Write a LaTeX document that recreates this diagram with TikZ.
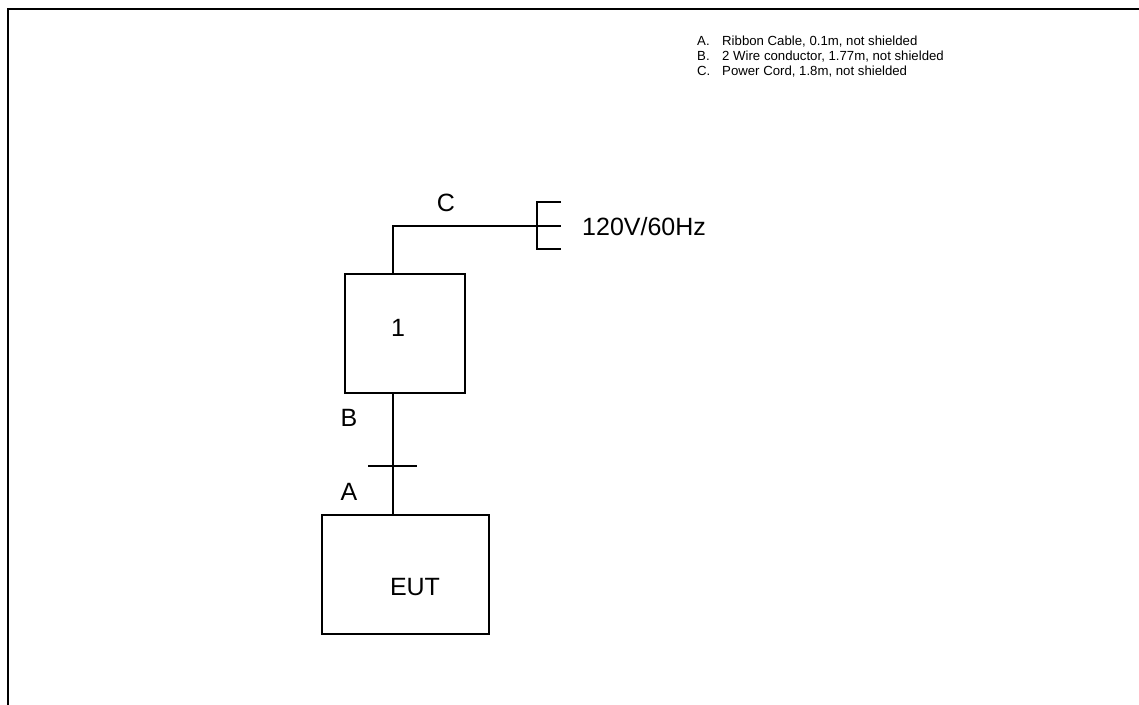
\documentclass[tikz,border=0pt]{standalone}
\usepackage{fontspec}
\setmainfont{Liberation Sans}
\begin{document}
\begin{tikzpicture}[x=1pt,y=-1pt,
  wire/.style={line width=1.4pt},
  box/.style={draw,line width=1.4pt,rectangle,inner sep=0pt},
  big/.style={font=\fontsize{25}{30}\selectfont,inner sep=0pt},
  small/.style={font=\fontsize{13.2}{15}\selectfont,inner sep=0pt,anchor=base west}]
\useasboundingbox (0,0) rectangle (1139,704);
% frame (extends beyond the page on right and bottom)
\draw[line width=2.2pt] (8,720) -- (8,9) -- (1150,9);
% legend
\node[small] (la) at (697,45) {A.};
\node[small] (lb) at (697,60) {B.};
\node[small] (lc) at (697,75) {C.};
\node[small] (ta) at (722,45) {Ribbon Cable, 0.1m, not shielded};
\node[small] (tb) at (722,60) {2 Wire conductor, 1.77m, not shielded};
\node[small] (tc) at (722,75) {Power Cord, 1.8m, not shielded};
% boxes
\node[box,minimum width=120pt,minimum height=119pt] (box1) at (405,333.5) {};
\node[big] (one) at (398,328) {1};
\node[box,minimum width=167pt,minimum height=119pt] (eut) at (405.5,574.5) {};
\node[big] (euttxt) at (415,587) {EUT};
% connector C to plug
\coordinate (c0) at (393,274);
\coordinate (c1) at (393,226);
\coordinate (plug) at (537,226);
\coordinate (pt) at (537,202);
\coordinate (pb) at (537,249);
\coordinate (pt2) at (561,202);
\coordinate (pm2) at (561,226);
\coordinate (pb2) at (561,249);
\draw[wire] (c0) -- (c1) -- (plug);
\draw[wire] (pt2) -- (pt) -- (pb) -- (pb2);
\draw[wire] (plug) -- (pm2);
\node[big] (lblc) at (446,203) {C};
\node[big,anchor=west] (volt) at (582,227) {120V/60Hz};
% connector B/A
\coordinate (b0) at (393,393);
\coordinate (b1) at (393,515);
\coordinate (tk1) at (368,466);
\coordinate (tk2) at (417,466);
\draw[wire] (b0) -- (b1);
\draw[wire] (tk1) -- (tk2);
\node[big] (lblb) at (349,418) {B};
\node[big] (lbla) at (349,492) {A};
\end{tikzpicture}
\end{document}
